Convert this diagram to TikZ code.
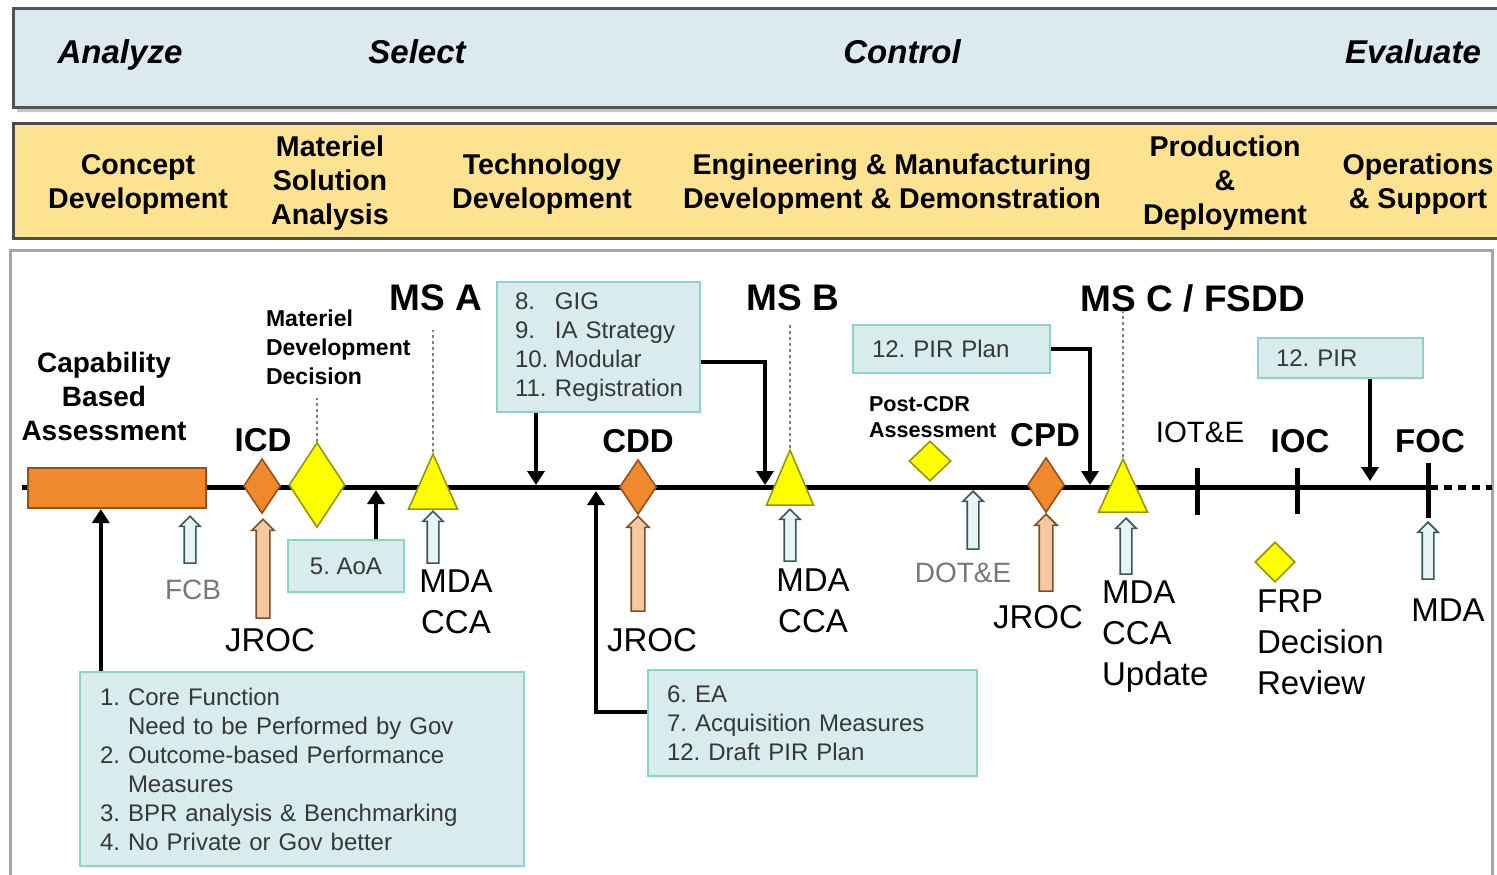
\documentclass[tikz,border=0pt]{standalone}
\usepackage{fontspec}
\setmainfont{Liberation Sans}
\usetikzlibrary{shapes.geometric,shapes.arrows,arrows.meta}
\definecolor{topblue}{RGB}{220,234,240}
\definecolor{band}{RGB}{252,226,145}
\definecolor{boxfill}{RGB}{216,236,238}
\definecolor{boxline}{RGB}{140,212,198}
\definecolor{ora}{RGB}{240,137,44}
\definecolor{oraline}{RGB}{150,80,30}
\definecolor{yel}{RGB}{255,255,0}
\definecolor{yelline}{RGB}{150,150,0}
\definecolor{peach}{RGB}{246,200,160}
\definecolor{peachline}{RGB}{120,80,40}
\definecolor{pale}{RGB}{232,244,246}
\definecolor{paleline}{RGB}{50,90,90}
\definecolor{txtgray}{RGB}{55,55,55}
\definecolor{lblgray}{RGB}{120,120,120}
\newcommand\fsz[2]{\fontsize{#1}{#2}\selectfont}
\tikzset{
  toplab/.style={font=\fsz{16.5}{20}\bfseries\itshape, anchor=base},
  phase/.style={font=\fsz{14.3}{17}\bfseries, align=center},
  ms/.style={font=\fsz{18.5}{22}\bfseries},
  msb/.style={font=\fsz{16.5}{20}\bfseries},
  lab/.style={font=\fsz{16.5}{20.5}, align=center},
  glab/.style={font=\fsz{14}{17}, text=lblgray},
  smallbold/.style={font=\fsz{11.5}{14.5}\bfseries, align=left},
  note/.style={draw=boxline, line width=1.2pt, fill=boxfill, align=left,
     font=\fsz{12}{14.5}\frenchspacing, text=txtgray},
  orarect/.style={rectangle, fill=ora, draw=oraline, line width=1pt, inner sep=0},
  odia/.style={diamond, fill=ora, draw=oraline, line width=0.8pt, inner sep=0,
     minimum width=18.5pt, minimum height=27.5pt},
  ydia/.style={diamond, fill=yel, draw=yelline, line width=0.8pt, inner sep=0},
  tri/.style={isosceles triangle, isosceles triangle stretches, shape border rotate=90,
     fill=yel, draw=yelline, line width=0.8pt, inner sep=0, anchor=apex},
  barrow/.style={single arrow, shape border rotate=90, anchor=tip, inner xsep=2.5pt,
     inner ysep=0pt, single arrow head extend=2.2pt, line width=0.8pt},
  hollow/.style={barrow, fill=pale, draw=paleline},
  peacharr/.style={barrow, inner xsep=3pt, fill=peach, draw=peachline},
  blk/.style={line width=2pt, -{Triangle[length=7pt,width=8.5pt]}},
  dotline/.style={line width=1pt, gray, dash pattern=on 1.5pt off 1.5pt},
  tick/.style={line width=2.5pt},
}
\begin{document}
\begin{tikzpicture}[x=0.5pt,y=-0.5pt]
\useasboundingbox (0,0) rectangle (1497,874);
\clip (0,0) rectangle (1497,874);
% header bands
\fill[gray!45] (17,12) rectangle (1515,112);
\draw[fill=topblue, draw=gray!65!black, line width=1.5pt] (13,8) rectangle (1515,107);
\node[toplab] (an) at (120,63) {Analyze};
\node[toplab] (se) at (417,63) {Select};
\node[toplab] (co) at (902,63) {Control};
\node[toplab] (ev) at (1413,63) {Evaluate};
\draw[fill=band, draw=gray!60!black, line width=1.5pt] (13,123) rectangle (1515,238);
\node[phase] (p1) at (138,184) {Concept\\Development};
\node[phase] (p2) at (330,183) {Materiel\\Solution\\Analysis};
\node[phase] (p3) at (542,184) {Technology\\Development};
\node[phase] (p4) at (892,184) {Engineering \& Manufacturing\\Development \& Demonstration};
\node[phase] (p5) at (1225,183) {Production\\\&\\Deployment};
\node[phase] (p6) at (1418,184) {Operations\\\& Support};
% lower frame
\draw[draw=gray!70, line width=1.5pt] (10,890) -- (10,250) -- (1492,250) -- (1492,890);
% timeline
\coordinate (tl0) at (22,487);
\coordinate (tl1) at (1430,487);
\coordinate (tl2) at (1492,487);
\draw[line width=2.5pt] (tl0) -- (tl1);
\draw[line width=2.5pt, dash pattern=on 4pt off 3pt] (tl1) -- (tl2);
% capability based assessment
\node[orarect, minimum width=89pt, minimum height=20pt] (cba) at (117,488) {};
\node[font=\fsz{14}{17}\bfseries, align=center] (cbal) at (104,396) {Capability\\Based\\Assessment};
% ICD
\node[odia] (icd) at (262,486) {};
\node[msb] (icdl) at (263,440) {ICD};
% MDD
\node[ydia, minimum width=28pt, minimum height=42.5pt] (mdd) at (317,485) {};
\node[smallbold, anchor=west] (mddl) at (259,347) {Materiel\\Development\\Decision};
\draw[dotline] (mdd.north) -- (317,398);
% MS A
\node[tri, minimum width=24.5pt, minimum height=27.5pt] (msa) at (433,452) {};
\node[ms] (msal) at (436,298) {MS A};
\draw[dotline] (msa.apex) -- (433,330);
% MS B
\node[tri, minimum width=23.5pt, minimum height=27.5pt] (msbt) at (790,448) {};
\node[ms] (msbl) at (793,298) {MS B};
\draw[dotline] (msbt.apex) -- (790,323);
% CDD
\node[odia] (cdd) at (638,487) {};
\node[msb] (cddl) at (638,441) {CDD};
% post-CDR
\node[ydia, minimum width=21pt, minimum height=20pt] (pcdr) at (930,461) {};
\node[font=\fsz{10.8}{13}\bfseries, align=left, anchor=west] (pcdrl) at (862,417) {Post-CDR\\Assessment};
% CPD
\node[odia] (cpd) at (1046,485) {};
\node[msb] (cpdl) at (1045,435) {CPD};
% MS C
\node[tri, minimum width=24.5pt, minimum height=26.5pt] (msc) at (1123,457) {};
\node[ms] (mscl) at (1193,298) {MS C / FSDD};
\draw[dotline] (msc.apex) -- (1123,312);
% ticks
\draw[tick] (1197,468) -- (1197,515);
\node[font=\fsz{14.7}{17}] (iote) at (1200,432) {IOT\&E};
\draw[tick] (1297,468) -- (1297,514);
\node[msb] (ioc) at (1300,441) {IOC};
\draw[tick] (1428,463) -- (1428,518);
\node[msb] (foc) at (1430,441) {FOC};
% FRP
\node[ydia, minimum width=20pt, minimum height=20pt] (frp) at (1275,562) {};
\node[lab, align=left, anchor=west] (frpl) at (1250,642) {FRP\\Decision\\Review};
% block arrows
\node[hollow, minimum height=23.5pt] (fcba) at (190,515) {};
\node[glab] (fcb) at (193,590) {FCB};
\node[peacharr, minimum height=49.5pt] (j1a) at (263,518) {};
\node[lab] (j1) at (270,640) {JROC};
\node[hollow, minimum height=26pt] (m1a) at (433,510) {};
\node[lab] (m1) at (456,602) {MDA\\CCA};
\node[peacharr, minimum height=47.5pt] (j2a) at (638,515) {};
\node[lab] (j2) at (652,640) {JROC};
\node[hollow, minimum height=26pt] (m2a) at (790,508) {};
\node[lab] (m2) at (813,601) {MDA\\CCA};
\node[hollow, minimum height=29pt] (dota) at (973,490) {};
\node[glab] (dot) at (963,573) {DOT\&E};
\node[peacharr, minimum height=38.5pt] (j3a) at (1046,513) {};
\node[lab] (j3) at (1038,617) {JROC};
\node[hollow, minimum height=28pt] (m3a) at (1126,517) {};
\node[lab, align=left, anchor=west] (m3) at (1095,637) {MDA\\CCA\\Update};
\node[hollow, minimum height=28.5pt] (m4a) at (1428,521) {};
\node[lab] (m4) at (1448,610) {MDA};
% notes
\node[note, text width=202pt, inner xsep=10pt, minimum height=97pt] (n14) at (302,769)
 {1. Core Function\\\hspace*{14pt}Need to be Performed by Gov\\2. Outcome-based Performance\\\hspace*{14pt}Measures\\3. BPR analysis \& Benchmarking\\4. No Private or Gov better};
\node[note, minimum width=58pt, minimum height=26pt] (aoa) at (346,566) {5. AoA};
\node[note, text width=83.5pt, inner xsep=9pt, minimum height=65pt] (g811) at (598.5,347)
 {\makebox[20pt][l]{8.}GIG\\\makebox[20pt][l]{9.}IA Strategy\\\makebox[20pt][l]{10.}Modular\\\makebox[20pt][l]{11.}Registration};
\node[note, text width=145.5pt, inner xsep=9.5pt, minimum height=53pt] (ea) at (812.5,723)
 {6. EA\\7. Acquisition Measures\\12. Draft PIR Plan};
\node[note, text width=79.5pt, inner xsep=9.5pt, minimum height=24pt] (pp) at (951.5,349) {12. PIR Plan};
\node[note, text width=64.5pt, inner xsep=9pt, minimum height=20pt] (pir) at (1340.5,358) {12. PIR};
% connectors
\coordinate (msbin) at (765,485);
\coordinate (cddin) at (596,491);
\coordinate (cpdin) at (1090,485);
\coordinate (pirin) at (1370,481);
\draw[blk] ([xshift=11pt]n14.north west) -- ([xshift=11pt]n14.north west |- cba.south);
\draw[blk] ([xshift=15pt]aoa.north) -- ([xshift=15pt,yshift=-1.5pt]aoa.north |- tl0);
\draw[blk] ([xshift=-31.25pt]g811.south) -- ([xshift=-31.25pt,yshift=1pt]g811.south |- tl0);
\draw[blk] ([yshift=-7.5pt]g811.east) -| (msbin);
\draw[blk] ([yshift=5.5pt]ea.west) -| (cddin);
\draw[blk] (pp.east) -| (cpdin);
\draw[blk] ([xshift=14.75pt]pir.south) -- (pirin);
\end{tikzpicture}
\end{document}
